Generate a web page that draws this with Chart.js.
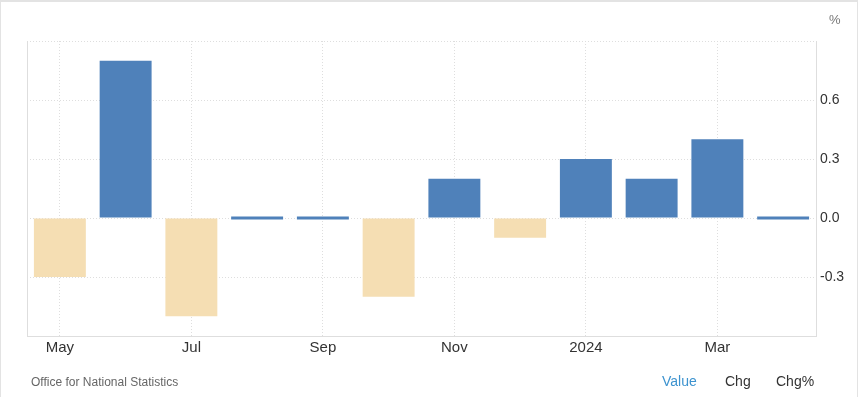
<!DOCTYPE html>
<html>
<head>
<meta charset="utf-8">
<script src="https://cdn.jsdelivr.net/npm/chart.js@4/dist/chart.umd.min.js"></script>
<style>
    body { margin: 0; background: #fff; font-family: Arial, "Liberation Sans", sans-serif; }
    #wrap { position: relative; width: 858px; height: 397px; box-sizing: border-box; border: 1px solid #e3e3e3; border-bottom: none; border-top: 2px solid #e3e3e3; overflow: hidden; }
    #chart { position: absolute; left: 0; top: 0; }
    .txt { position: absolute; white-space: nowrap; }
    #unit { left: 828px; top: 10px; font-size: 13px; color: #777; }
    #source { left: 30px; top: 373px; font-size: 12px; color: #666; }
    .tab { top: 371px; font-size: 14px; color: #333; }
</style>
</head>
<body>
<div id="wrap">
    <canvas id="chart" width="858" height="397"></canvas>
    <div class="txt" id="unit">%</div>
    <div class="txt" id="source">Office for National Statistics</div>
    <div class="txt tab" style="left:661px;color:#3d93cf;">Value</div>
    <div class="txt tab" style="left:724px;">Chg</div>
    <div class="txt tab" style="left:775px;">Chg%</div>
</div>
<script>
const months = ['May', 'Jun', 'Jul', 'Aug', 'Sep', 'Oct', 'Nov', 'Dec', '2024', 'Feb', 'Mar', 'Apr'];
const values = [-0.3, 0.8, -0.5, 0.0, 0.0, -0.4, 0.2, -0.1, 0.3, 0.2, 0.4, 0.0];
const yTicks = [-0.3, 0.0, 0.3, 0.6];

const positiveColor = '#4f81ba';
const negativeColor = '#f5deb3';
const gridColor = '#dedede';

// left border of the plot area
const leftBorder = {
    id: 'leftBorder',
    afterDraw(chart) {
        const { ctx, chartArea } = chart;
        ctx.save();
        ctx.strokeStyle = gridColor;
        ctx.lineWidth = 1;
        ctx.beginPath();
        ctx.moveTo(chartArea.left + 0.5, chartArea.top);
        ctx.lineTo(chartArea.left + 0.5, chartArea.bottom);
        ctx.stroke();
        ctx.restore();
    }
};

const ctx = document.getElementById('chart').getContext('2d');
new Chart(ctx, {
    type: 'bar',
    data: {
        labels: months,
        datasets: [{
            data: values,
            backgroundColor: values.map(v => v < 0 ? negativeColor : positiveColor),
            barPercentage: 0.79,
            categoryPercentage: 1,
            minBarLength: 3
        }]
    },
    options: {
        responsive: false,
        animation: false,
        layout: { padding: { left: 26, top: 39, right: 0, bottom: 0 } },
        plugins: {
            legend: { display: false },
            tooltip: { enabled: false }
        },
        scales: {
            x: {
                offset: true,
                afterFit: scale => { scale.height = 63; },
                grid: {
                    offset: false,
                    drawTicks: false,
                    color: c => c.index % 2 === 0 ? gridColor : 'rgba(0,0,0,0)'
                },
                border: { display: true, color: gridColor, dash: [1, 2] },
                ticks: {
                    autoSkip: false,
                    maxRotation: 0,
                    padding: 3,
                    color: '#333',
                    font: { family: 'Arial, "Liberation Sans", sans-serif', size: 15 },
                    callback: (v, i) => i % 2 === 0 ? months[i] : ''
                }
            },
            y: {
                position: 'right',
                min: -0.6,
                max: 0.9,
                afterFit: scale => { scale.width = 43; },
                afterBuildTicks: scale => {
                    scale.ticks = [-0.6, ...yTicks, 0.9].map(v => ({ value: v }));
                },
                grid: {
                    drawTicks: false,
                    color: gridColor
                },
                border: { display: true, color: gridColor, dash: [1, 2] },
                ticks: {
                    padding: 4,
                    color: '#333',
                    font: { family: 'Arial, "Liberation Sans", sans-serif', size: 14 },
                    callback: v => yTicks.some(t => Math.abs(t - v) < 1e-9) ? v.toFixed(1) : ''
                }
            }
        }
    },
    plugins: [leftBorder]
});
</script>
</body>
</html>
